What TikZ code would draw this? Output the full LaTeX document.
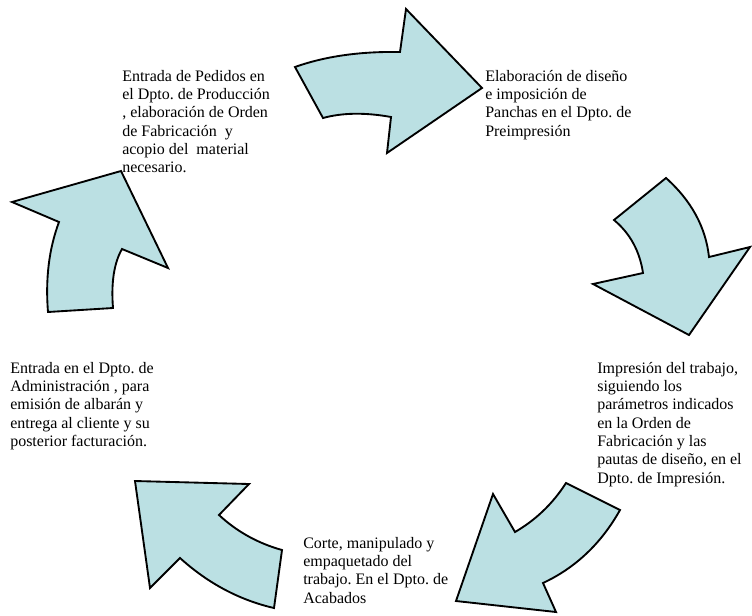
\documentclass[tikz,border=0pt]{standalone}
\usepackage{fontspec}
\setmainfont{Liberation Serif}
\frenchspacing
\definecolor{arrowfill}{RGB}{187,224,227}
\tikzset{
  flecha/.style={draw=black, fill=arrowfill, line width=1.4pt, line join=miter},
  paso/.style={anchor=north west, align=left, inner sep=0pt, font=\fontsize{12}{13.7}\selectfont}
}
\begin{document}
\begin{tikzpicture}[x=0.75pt, y=-0.75pt]
        \useasboundingbox (0,0) rectangle (752,615);
        % arrows of the cycle
        \draw[flecha] (295,67) .. controls (325,56.3) and (360,51.3) .. (400,52) -- (406,9) -- (482,88) -- (387,153) -- (391,117) .. controls (365,112.3) and (342.3,112.7) .. (323,118) -- cycle;
        \draw[flecha] (666,178) .. controls (691.3,200.7) and (705.7,227) .. (709,257) -- (750,247) -- (689,335) -- (593,284) -- (643,273) .. controls (639.7,251) and (630,233.3) .. (614,220) -- cycle;
        \draw[flecha] (566,483) -- (620,510) .. controls (601.3,543.3) and (575.7,567.7) .. (543,583) -- (556,612) -- (456,601) -- (493,494) -- (515,532) .. controls (535.7,520) and (552.7,503.7) .. (566,483) -- cycle;
        \draw[flecha] (135,481) -- (249,484) -- (219,515) .. controls (237,531.7) and (258,543.3) .. (282,550) -- (274,608) .. controls (239.3,600) and (208,583.3) .. (180,558) -- (150,588) -- cycle;
        \draw[flecha] (121,171) -- (12,202) -- (59,222) .. controls (49,248.7) and (45.3,278.7) .. (48,312) -- (113,308) .. controls (111,282.7) and (114,263) .. (122,249) -- (168,268) -- cycle;
        % texts
        \node[paso] (pedidos) at (122,70) {Entrada de Pedidos en\\el Dpto. de Producción\\, elaboración de Orden\\de Fabricación\ \ y\\acopio del\ \ material\\necesario.};
        \node[paso] (diseno) at (485,70) {Elaboración de diseño\\e imposición de\\Panchas en el Dpto. de\\Preimpresión};
        \node[paso] (impresion) at (597,362) {Impresión del trabajo,\\siguiendo los\\parámetros indicados\\en la Orden de\\Fabricación y las\\pautas de diseño, en el\\Dpto. de Impresión.};
        \node[paso] (acabados) at (303,537) {Corte, manipulado y\\empaquetado del\\trabajo. En el Dpto. de\\Acabados};
        \node[paso] (admin) at (10,362) {Entrada en el Dpto. de\\Administración , para\\emisión de albarán y\\entrega al cliente y su\\posterior facturación.};
\end{tikzpicture}
\end{document}
